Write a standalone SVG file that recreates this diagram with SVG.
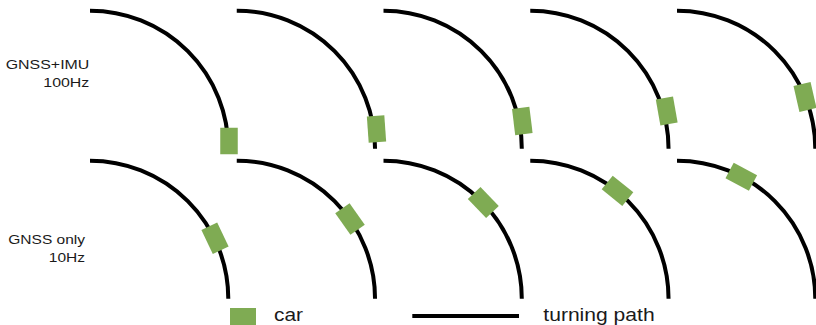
<svg xmlns="http://www.w3.org/2000/svg" width="816" height="325" viewBox="0 0 816 325">
  <style>
    .path { fill: none; stroke: #000; stroke-width: 4; stroke-linecap: butt; }
    .car { fill: #7fab53; }
    .label { font-family: "Liberation Sans", Arial, sans-serif; font-size: 13.5px; fill: #1a1a1a; text-anchor: end; }
    .legend { font-family: "Liberation Sans", Arial, sans-serif; font-size: 18.5px; fill: #1a1a1a; }
  </style>
  <defs>
    <!-- quarter-circle turning path, starting at its top-left end -->
    <path id="turn" d="M0,0 A138.3,138 0 0 1 138.3,138" class="path"/>
    <!-- car body, centred on its own origin -->
    <rect id="carBody" x="-8.75" y="-13.25" width="17.5" height="26.5" class="car"/>
  </defs>

  <!-- row labels -->
  <g id="label-imu">
    <text class="label" transform="translate(89.3,69.3) scale(1.18,1)">GNSS+IMU</text>
    <text class="label" transform="translate(89.3,87.3) scale(1.18,1)">100Hz</text>
  </g>
  <g id="label-gnss">
    <text class="label" transform="translate(85,243.5) scale(1.15,1)">GNSS only</text>
    <text class="label" transform="translate(85,261.7) scale(1.15,1)">10Hz</text>
  </g>

  <!-- turning paths -->
  <g id="connectors">
    <use href="#turn" x="90" y="10.7"/>
    <use href="#turn" x="236.75" y="10.7"/>
    <use href="#turn" x="383.5" y="10.7"/>
    <use href="#turn" x="530.25" y="10.7"/>
    <use href="#turn" x="677" y="10.7"/>
    <use href="#turn" x="90" y="160.7"/>
    <use href="#turn" x="236.75" y="160.7"/>
    <use href="#turn" x="383.5" y="160.7"/>
    <use href="#turn" x="530.25" y="160.7"/>
    <use href="#turn" x="677" y="160.7"/>
  </g>

  <!-- cars, GNSS+IMU at 100Hz -->
  <g id="car-imu-1"><use href="#carBody" transform="translate(229,141) rotate(0)"/></g>
  <g id="car-imu-2"><use href="#carBody" transform="translate(376.5,129) rotate(-4)"/></g>
  <g id="car-imu-3"><use href="#carBody" transform="translate(522.3,121) rotate(-7)"/></g>
  <g id="car-imu-4"><use href="#carBody" transform="translate(666.7,111) rotate(-10)"/></g>
  <g id="car-imu-5"><use href="#carBody" transform="translate(805,97) rotate(-13)"/></g>

  <!-- cars, GNSS only at 10Hz -->
  <g id="car-gnss-1"><use href="#carBody" transform="translate(215,238.3) rotate(-25.5)"/></g>
  <g id="car-gnss-2"><use href="#carBody" transform="translate(350,219) rotate(-35)"/></g>
  <g id="car-gnss-3"><use href="#carBody" transform="translate(483.3,202.5) rotate(-43.7)"/></g>
  <g id="car-gnss-4"><use href="#carBody" transform="translate(617.5,190.8) rotate(-51)"/></g>
  <g id="car-gnss-5"><use href="#carBody" transform="translate(741.3,176.7) rotate(-62)"/></g>

  <!-- legend -->
  <g id="legend-car">
    <rect x="230" y="308" width="26" height="18" class="car"/>
    <text class="legend" transform="translate(274,320.5) scale(1.13,1)">car</text>
  </g>
  <g id="legend-path">
    <line x1="412.3" y1="316" x2="519" y2="316" class="path"/>
    <text class="legend" transform="translate(543.3,320.5) scale(1.14,1)">turning path</text>
  </g>
</svg>
